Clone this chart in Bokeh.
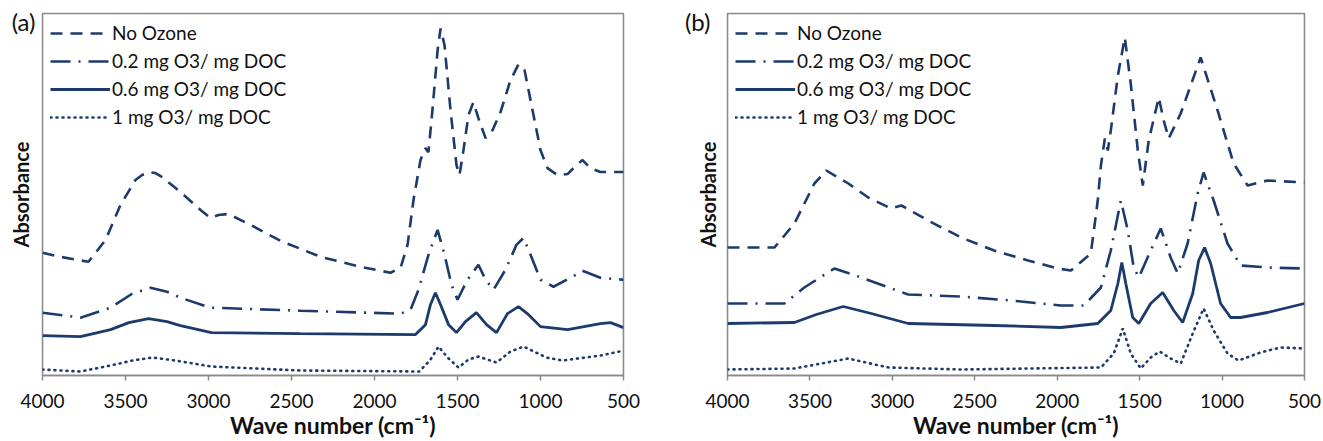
from bokeh.plotting import figure
from bokeh.layouts import row
from bokeh.models import (Range1d, FixedTicker, Legend, LegendItem, BoxAnnotation,
                          CustomJSTickFormatter)
from bokeh.embed import file_html
from bokeh.resources import INLINE

SERIES = ["No Ozone", "0.2 mg O3/ mg DOC", "0.6 mg O3/ mg DOC", "1 mg O3/ mg DOC"]
X_TICKS = [4000, 3500, 3000, 2500, 2000, 1500, 1000, 500]
PANEL_TAGS = ["(a)", "(b)"]

# ---- panel (a) ----
A_NONE_WN = [4000,3892,3723,3620,3530,3440,3400,3361,3320,3289,3169,3048,2988,2940,2880,2747,2566,2325,2084,1904,1843,1801,1765,1723,1693,1675,1651,1620,1602,1578,1542,1506,1488,1464,1434,1404,1374,1331,1289,1241,1181,1133,1096,1048,1000,958,898,837,789,747,699,639,500]
A_NONE = [1.23,1.19,1.14,1.36,1.71,1.96,2.01,2.04,2.03,2.00,1.84,1.66,1.58,1.61,1.62,1.51,1.35,1.19,1.09,1.03,1.08,1.31,1.76,2.16,2.28,2.24,2.66,3.26,3.48,3.31,2.66,2.11,2.01,2.26,2.61,2.74,2.58,2.38,2.46,2.64,2.96,3.12,3.06,2.66,2.26,2.08,2.01,2.02,2.10,2.16,2.08,2.04,2.04]
A_02_WN = [4000,3771,3590,3460,3349,3250,3169,2988,2446,1843,1783,1735,1675,1620,1578,1536,1500,1440,1374,1331,1283,1211,1145,1102,1060,1000,922,819,747,639,500]
A_02 = [0.63,0.58,0.68,0.82,0.88,0.84,0.78,0.68,0.65,0.62,0.66,0.86,1.21,1.46,1.21,0.91,0.76,0.96,1.11,0.96,0.86,1.06,1.31,1.38,1.21,0.96,0.89,0.98,1.05,0.98,0.96]
A_06_WN = [4000,3771,3590,3480,3361,3250,3169,2982,2446,1753,1693,1663,1633,1602,1554,1506,1452,1386,1325,1265,1199,1133,1072,1000,837,639,578,500]
A_06 = [0.40,0.39,0.46,0.53,0.57,0.54,0.50,0.43,0.42,0.41,0.51,0.71,0.83,0.71,0.51,0.43,0.54,0.63,0.51,0.43,0.62,0.69,0.61,0.49,0.46,0.52,0.53,0.48]
A_10_WN = [4000,3771,3590,3460,3337,3200,2982,2446,1729,1663,1614,1560,1494,1434,1374,1265,1181,1102,964,867,639,500]
A_10 = [0.06,0.04,0.10,0.15,0.18,0.15,0.09,0.05,0.04,0.16,0.29,0.18,0.08,0.16,0.19,0.13,0.24,0.29,0.18,0.15,0.20,0.25]

# ---- panel (b) ----
B_NONE_WN = [4000,3715,3594,3473,3401,3267,3146,3007,2946,2783,2583,2383,2177,1996,1917,1796,1754,1735,1711,1693,1675,1632,1590,1554,1511,1481,1445,1384,1354,1324,1251,1130,1027,930,845,724,500]
B_NONE = [1.28,1.28,1.52,1.92,2.05,1.92,1.78,1.67,1.70,1.55,1.38,1.25,1.15,1.07,1.05,1.22,1.75,2.10,2.37,2.25,2.45,3.00,3.38,2.92,2.25,1.90,2.35,2.78,2.55,2.37,2.62,3.18,2.65,2.12,1.90,1.95,1.93]
B_02_WN = [4000,3655,3534,3352,3189,2904,2583,2280,1978,1838,1735,1675,1614,1572,1536,1505,1433,1372,1312,1269,1209,1148,1112,1051,967,888,724,500]
B_02 = [0.72,0.72,0.88,1.07,0.98,0.81,0.79,0.75,0.70,0.70,0.88,1.25,1.75,1.45,1.08,0.98,1.25,1.47,1.18,1.02,1.32,1.82,2.03,1.75,1.32,1.10,1.08,1.07]
B_06_WN = [4000,3594,3461,3298,3128,2904,2383,1978,1754,1675,1632,1608,1584,1542,1505,1433,1360,1293,1239,1178,1142,1106,1069,1009,948,888,724,500]
B_06 = [0.52,0.53,0.61,0.69,0.62,0.52,0.50,0.48,0.52,0.65,0.92,1.13,0.92,0.58,0.52,0.72,0.83,0.65,0.53,0.82,1.15,1.28,1.12,0.72,0.58,0.58,0.63,0.72]
B_10_WN = [4000,3594,3267,3025,2583,1735,1657,1602,1554,1493,1433,1378,1312,1251,1178,1112,1051,967,900,767,646,500]
B_10 = [0.06,0.07,0.17,0.08,0.06,0.08,0.22,0.47,0.22,0.07,0.18,0.24,0.17,0.12,0.42,0.67,0.45,0.22,0.15,0.23,0.28,0.27]

NAVY = "#1d3a6c"
GRAY = "#8a8a8a"
FONT = "Lato"
STYLES = [
    dict(line_dash="12 8", line_width=2.6),
    dict(line_dash="20 8 2 8", line_width=2.6),
    dict(line_dash="solid", line_width=2.8),
    dict(line_dash="1 5", line_width=2.6, line_cap="round"),
]


def make_panel(tag, data, width, border_left, border_right, ymax,
               tag_pos, tag_standoff, ylabel_standoff):
    p = figure(width=width, height=441, output_backend="svg", toolbar_location=None,
               x_range=Range1d(4000, 500), y_range=Range1d(0, ymax),
               min_border_left=border_left, min_border_right=border_right,
               min_border_top=13, min_border_bottom=65)
    p.grid.visible = False
    p.outline_line_color = GRAY
    p.outline_line_width = 1.5
    p.background_fill_color = "white"
    p.border_fill_color = "white"
    p.add_layout(BoxAnnotation(fill_alpha=0, line_color=GRAY, line_width=1.5))

    ax = p.xaxis[0]
    ax.ticker = FixedTicker(ticks=X_TICKS)
    ax.axis_line_color = GRAY
    ax.axis_line_width = 1.5
    ax.major_tick_line_color = GRAY
    ax.major_tick_line_width = 1.5
    ax.major_tick_out = 5
    ax.major_tick_in = 0
    ax.minor_tick_line_color = None
    ax.major_label_text_font = FONT
    ax.major_label_text_font_size = "19px"
    ax.major_label_text_color = "#111111"
    ax.major_label_standoff = 13
    ax.axis_label = "Wave number (cm\u207b\u00b9)"
    ax.axis_label_text_font = FONT
    ax.axis_label_text_font_style = "bold"
    ax.axis_label_text_font_size = "23px"
    ax.axis_label_text_color = "#111111"
    ax.axis_label_standoff = 0

    # y axis: no value ticks; the panel tag sits where a tick label would be
    ay = p.yaxis[0]
    ay.ticker = FixedTicker(ticks=[tag_pos])
    ay.formatter = CustomJSTickFormatter(args=dict(tag=tag), code="return tag;")
    ay.major_label_text_font = FONT
    ay.major_label_text_font_size = "24px"
    ay.major_label_text_color = "#111111"
    ay.major_label_standoff = tag_standoff
    ay.major_tick_line_color = None
    ay.major_tick_out = 0
    ay.major_tick_in = 0
    ay.minor_tick_line_color = None
    ay.axis_line_color = None
    ay.axis_label = "Absorbance"
    ay.axis_label_text_font = FONT
    ay.axis_label_text_font_style = "bold"
    ay.axis_label_text_font_size = "20px"
    ay.axis_label_text_color = "#111111"
    ay.axis_label_standoff = ylabel_standoff

    items = []
    for name, (xs, ys), st in zip(SERIES, data, STYLES):
        r = p.line(xs, ys, line_color=NAVY, **st)
        items.append(LegendItem(label=name, renderers=[r]))

    leg = Legend(items=items, location="top_left", border_line_color=None,
                 background_fill_alpha=0, margin=8, padding=0, spacing=5,
                 glyph_width=60, glyph_height=20, label_height=20, label_standoff=2,
                 label_text_font=FONT, label_text_font_size="19px",
                 label_text_color="#111111")
    p.add_layout(leg)
    return p


pa = make_panel(PANEL_TAGS[0], [(A_NONE_WN, A_NONE), (A_02_WN, A_02), (A_06_WN, A_06), (A_10_WN, A_10)],
                663, 42, 40, 3.63, 3.55, 7, -24)
pb = make_panel(PANEL_TAGS[1], [(B_NONE_WN, B_NONE), (B_02_WN, B_02), (B_06_WN, B_06), (B_10_WN, B_10)],
                660, 64, 19, 3.62, 3.54, 17, -38)

layout = row(pa, pb)
open("out.html", "w").write(file_html(layout, INLINE))
